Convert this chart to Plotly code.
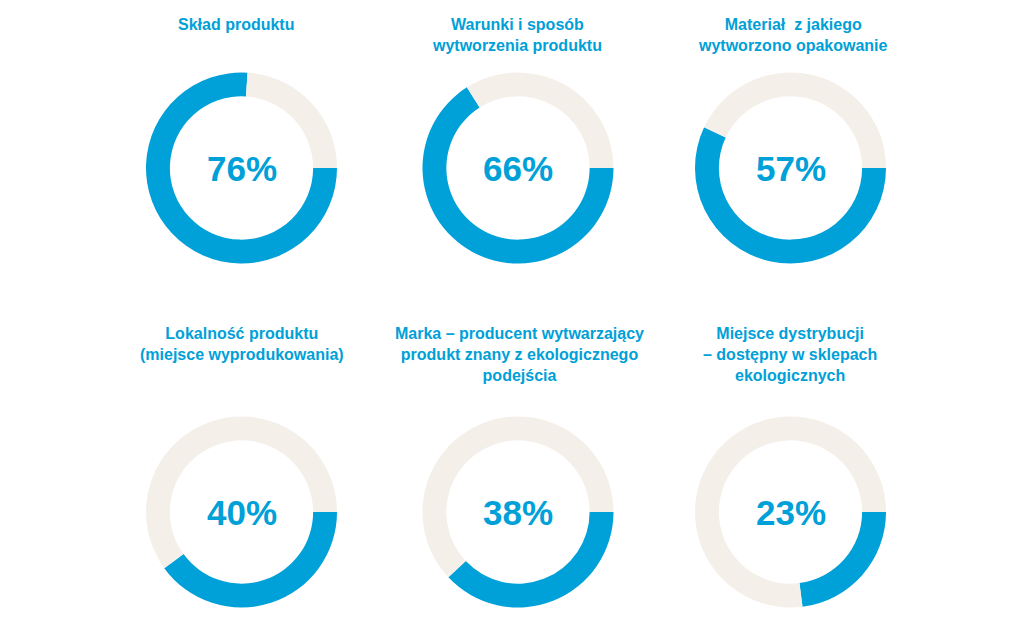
import plotly.graph_objects as go

titles = [
    "Skład produktu",
    "Warunki i sposób<br>wytworzenia produktu",
    "Materiał  z jakiego<br>wytworzono opakowanie",
    "Lokalność produktu<br>(miejsce wyprodukowania)",
    "Marka – producent wytwarzający<br>produkt znany z ekologicznego<br>podejścia",
    "Miejsce dystrybucji<br>– dostępny w sklepach<br>ekologicznych",
]
percent = [76, 66, 57, 40, 38, 23]
labels = ["Tak", "Pozostali"]

# page body has an 8px margin, so the figure is drawn 8px in from the window edge
OFF = 8
W, H = 1024 - OFF, 625 - OFF
BLUE = "#00A0D8"
BEIGE = "#F4F0E9"
col_x = [241.5, 518, 790.5]
title_x = [235.5, 516.5, 792.5, 241.5, 519, 790]
row_y = [168, 512]
title_y = [25, 334]
R = 95.5


def px(sx):
    return (sx - OFF) / W


def py(sy):
    return 1 - (sy - OFF) / H


fig = go.Figure()
for i, (t, p) in enumerate(zip(titles, percent)):
    cx = col_x[i % 3]
    cy = row_y[i // 3]
    fig.add_trace(go.Pie(
        values=[p, 100 - p], labels=labels, sort=False, direction="clockwise",
        rotation=90, hole=0.75, textinfo="none", showlegend=False,
        marker=dict(colors=[BLUE, BEIGE], line=dict(width=0)),
        domain=dict(x=[px(cx - R), px(cx + R)], y=[py(cy + R), py(cy - R)]),
    ))
    fig.add_annotation(x=px(cx), y=py(cy), xref="paper", yref="paper",
                       text=f"<b>{p}%</b>", showarrow=False,
                       font=dict(family="Liberation Sans, Arial", size=35, color=BLUE),
                       xanchor="center", yanchor="middle")
    fig.add_annotation(x=px(title_x[i]), y=py(title_y[i // 3] - 11), xref="paper", yref="paper",
                       text=f"<b>{t}</b>", showarrow=False,
                       font=dict(family="Liberation Sans, Arial", size=16, color=BLUE),
                       xanchor="center", yanchor="top", align="center")

fig.update_layout(width=W, height=H, margin=dict(l=0, r=0, t=0, b=0),
                  paper_bgcolor="white", plot_bgcolor="white")
fig.write_html("out.html")
